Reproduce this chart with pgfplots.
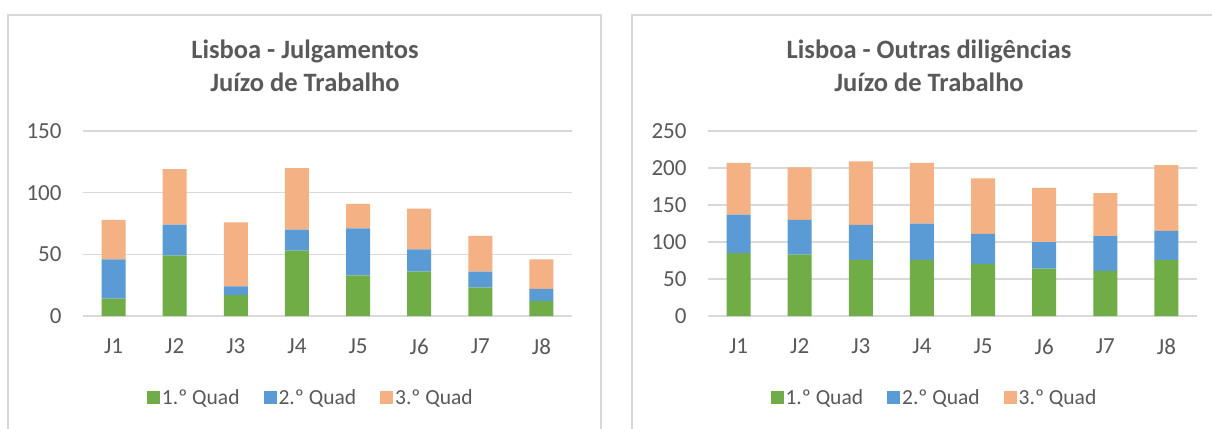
\documentclass[border=0pt]{standalone}
\usepackage{pgfplots}
\pgfplotsset{compat=1.18}
\usepackage{fontspec}
\setmainfont{Carlito}
\definecolor{cg}{HTML}{70AD47}
\definecolor{cb}{HTML}{5B9BD5}
\definecolor{co}{HTML}{F4B183}
\definecolor{txt}{HTML}{595959}
\definecolor{grd}{HTML}{D9D9D9}
\pgfplotsset{
  mystyle/.style={
    scale only axis, width=489bp, height=185bp,
    anchor=south west,
    ybar stacked, bar width=24bp,
    xmin=-0.5, xmax=7.5, ymin=0,
    xtick={0,...,7}, xticklabels={J1,J2,J3,J4,J5,J6,J7,J8},
    axis line style={draw=none}, tick style={draw=none},
    ymajorgrids, grid style={grd, line width=1.3bp},
    /pgf/number format/assume math mode=true,
    ticklabel style={font=\fontsize{23bp}{27bp}\selectfont, text=txt},
    xticklabel style={yshift=-19bp},
    yticklabel style={xshift=-18bp},
    legend columns=3,
    legend style={draw=none, fill=none, anchor=center,
      font=\fontsize{21.5bp}{25bp}\selectfont, text=txt,
      /tikz/every even column/.append style={column sep=22bp}},
    legend image code/.code={\fill[##1] (0bp,-6bp) rectangle (13bp,7bp);},
  }
}
\begin{document}
\begin{tikzpicture}[x=1bp,y=1bp]
\path[use as bounding box, clip] (0,0) rectangle (1212,428);
\fill[white] (0,0) rectangle (1212,428);
\draw[grd, line width=1.3bp] (8,413) rectangle (601,-10);
\draw[grd, line width=1.3bp] (632,413) rectangle (1225,-10);
\node[align=center, font=\bfseries\fontsize{26.5bp}{33bp}\selectfont, text=txt] at (305,362) {Lisboa - Julgamentos\\Juízo de Trabalho};
\node[align=center, font=\bfseries\fontsize{26.5bp}{33bp}\selectfont, text=txt] at (929,362) {Lisboa - Outras diligências\\Juízo de Trabalho};
\begin{axis}[mystyle, at={(83bp,112bp)}, ymax=150, ytick={0,50,100,150},
  legend style={at={(0.466,-0.443)}}]
\addplot[fill=cg, draw=none] coordinates {(0,14) (1,49) (2,17) (3,53) (4,33) (5,36) (6,23) (7,12)};
\addplot[fill=cb, draw=none] coordinates {(0,32) (1,25) (2,7) (3,17) (4,38) (5,18) (6,13) (7,10)};
\addplot[fill=co, draw=none] coordinates {(0,32) (1,45) (2,52) (3,50) (4,20) (5,33) (6,29) (7,24)};
\legend{1.º Quad, 2.º Quad, 3.º Quad}
\draw[grd, line width=2.5bp] (axis cs:-0.5,0) -- (axis cs:7.5,0);
\end{axis}
\begin{axis}[mystyle, at={(708bp,112bp)}, ymax=250, ytick={0,50,...,250},
  legend style={at={(0.463,-0.443)}}]
\addplot[fill=cg, draw=none] coordinates {(0,85) (1,83) (2,76) (3,76) (4,70) (5,64) (6,61) (7,76)};
\addplot[fill=cb, draw=none] coordinates {(0,52) (1,47) (2,47) (3,49) (4,41) (5,36) (6,47) (7,39)};
\addplot[fill=co, draw=none] coordinates {(0,70) (1,71) (2,86) (3,82) (4,75) (5,73) (6,58) (7,89)};
\legend{1.º Quad, 2.º Quad, 3.º Quad}
\draw[grd, line width=2.5bp] (axis cs:-0.5,0) -- (axis cs:7.5,0);
\end{axis}
\end{tikzpicture}
\end{document}
